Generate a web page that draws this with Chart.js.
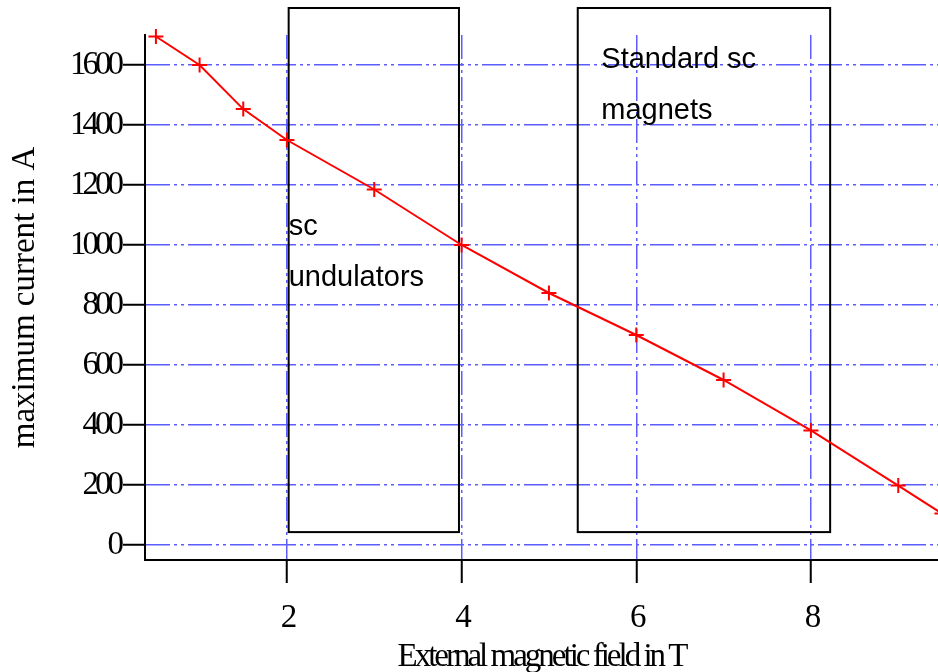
<!DOCTYPE html>
<html>
<head>
<meta charset="utf-8">
<script src="https://cdn.jsdelivr.net/npm/chart.js@4/dist/chart.umd.min.js"></script>
<style>
  body { margin: 0; background: #fff; }
  canvas { display: block; }
</style>
</head>
<body>
<canvas id="chart" width="938" height="672"></canvas>
<script>
// measured critical current vs applied field
const field = [0.5, 1, 1.5, 2, 3, 4, 5, 6, 7, 8, 9, 9.5];
const current = [1695, 1600, 1453, 1350, 1185, 1000, 840, 700, 550, 382, 198, 105];

const xTicks = [2, 4, 6, 8];
const yTicks = [0, 200, 400, 600, 800, 1000, 1200, 1400, 1600];

// operating regions (field range in T, current range in A)
const regionFrom = [2.02, 5.33];
const regionTo = [3.97, 8.22];
const regionLow = [43, 43];
const regionHigh = [1790, 1790];
const regionText = [['sc', 'undulators'], ['Standard sc', 'magnets']];
const regionTextX = [2.02, 5.6];
const regionTextY = [1033, 1590];

// linear scale with tighter letter spacing on its texts
class TightLinear extends Chart.LinearScale {
  drawLabels(area) {
    this.ctx.save();
    this.ctx.letterSpacing = '-4px';
    super.drawLabels(area);
    this.ctx.restore();
  }
  drawTitle() {
    this.ctx.save();
    if (this.axis === 'x') this.ctx.letterSpacing = '-3px';
    super.drawTitle();
    this.ctx.restore();
  }
}
TightLinear.id = 'tightLinear';
TightLinear.defaults = Chart.LinearScale.defaults;
Chart.register(TightLinear);

const regions = {
  id: 'regions',
  beforeDatasetsDraw(chart) {
    const {ctx, scales: {x, y}} = chart;
    ctx.save();
    ctx.strokeStyle = '#000';
    ctx.lineWidth = 2;
    regionFrom.forEach((from, i) => {
      const left = x.getPixelForValue(from);
      const right = x.getPixelForValue(regionTo[i]);
      const top = y.getPixelForValue(regionHigh[i]);
      const bottom = y.getPixelForValue(regionLow[i]);
      ctx.strokeRect(left, top, right - left, bottom - top);

      ctx.fillStyle = '#000';
      ctx.font = '29px "Liberation Sans", Arial, sans-serif';
      ctx.textAlign = 'left';
      ctx.textBaseline = 'alphabetic';
      const tx = x.getPixelForValue(regionTextX[i]);
      const ty = y.getPixelForValue(regionTextY[i]);
      regionText[i].forEach((line, j) => ctx.fillText(line, tx, ty + j * 51));
    });
    ctx.restore();
  }
};

const gridColor = '#5c5cff';
const gridDash = [24, 4, 3, 4, 3, 4];
const serif = '"Liberation Serif", "Times New Roman", serif';

const data = {
  datasets: [
    {
      label: 'Ic',
      data: field.map((f, i) => ({x: f, y: current[i]})),
      borderColor: 'red',
      backgroundColor: 'red',
      borderWidth: 2,
      tension: 0,
      pointStyle: 'cross',
      pointRadius: 7.5,
      pointBorderWidth: 2,
      pointBorderColor: 'red',
      clip: false
    }
  ]
};

const config = {
  type: 'line',
  data: data,
  options: {
    responsive: false,
    animation: false,
    layout: {
      autoPadding: false,
      padding: {top: 35, right: 0, left: 0, bottom: 0}
    },
    plugins: {
      legend: {display: false},
      tooltip: {enabled: false}
    },
    scales: {
      x: {
        type: 'tightLinear',
        min: 0.375,
        max: 9.455,
        afterBuildTicks: scale => { scale.ticks = xTicks.map(v => ({value: v})); },
        afterFit: scale => { scale.height = 112; },
        border: {display: true, color: '#000', width: 2, dash: gridDash},
        grid: {
          color: gridColor,
          lineWidth: 1.5,
          tickLength: 23,
          tickColor: '#000',
          tickWidth: 2
        },
        ticks: {
          color: '#000',
          padding: 16,
          font: {family: serif, size: 33}
        },
        title: {
          display: true,
          text: 'External magnetic field in T',
          color: '#000',
          padding: {top: 0, bottom: -2},
          font: {family: serif, size: 33, lineHeight: 1}
        }
      },
      y: {
        type: 'tightLinear',
        min: -50,
        max: 1700,
        afterBuildTicks: scale => { scale.ticks = yTicks.map(v => ({value: v})); },
        afterFit: scale => { scale.width = 145; },
        border: {display: true, color: '#000', width: 2, dash: gridDash},
        grid: {
          color: gridColor,
          lineWidth: 1.5,
          tickLength: 22,
          tickColor: '#000',
          tickWidth: 2
        },
        ticks: {
          color: '#000',
          padding: 3,
          font: {family: serif, size: 33},
          callback: value => String(value)
        },
        title: {
          display: true,
          text: 'maximum current in A',
          color: '#000',
          padding: {top: 6, bottom: 0},
          font: {family: serif, size: 33}
        }
      }
    }
  },
  plugins: [regions]
};

const myChart = new Chart(document.getElementById('chart'), config);
</script>
</body>
</html>
